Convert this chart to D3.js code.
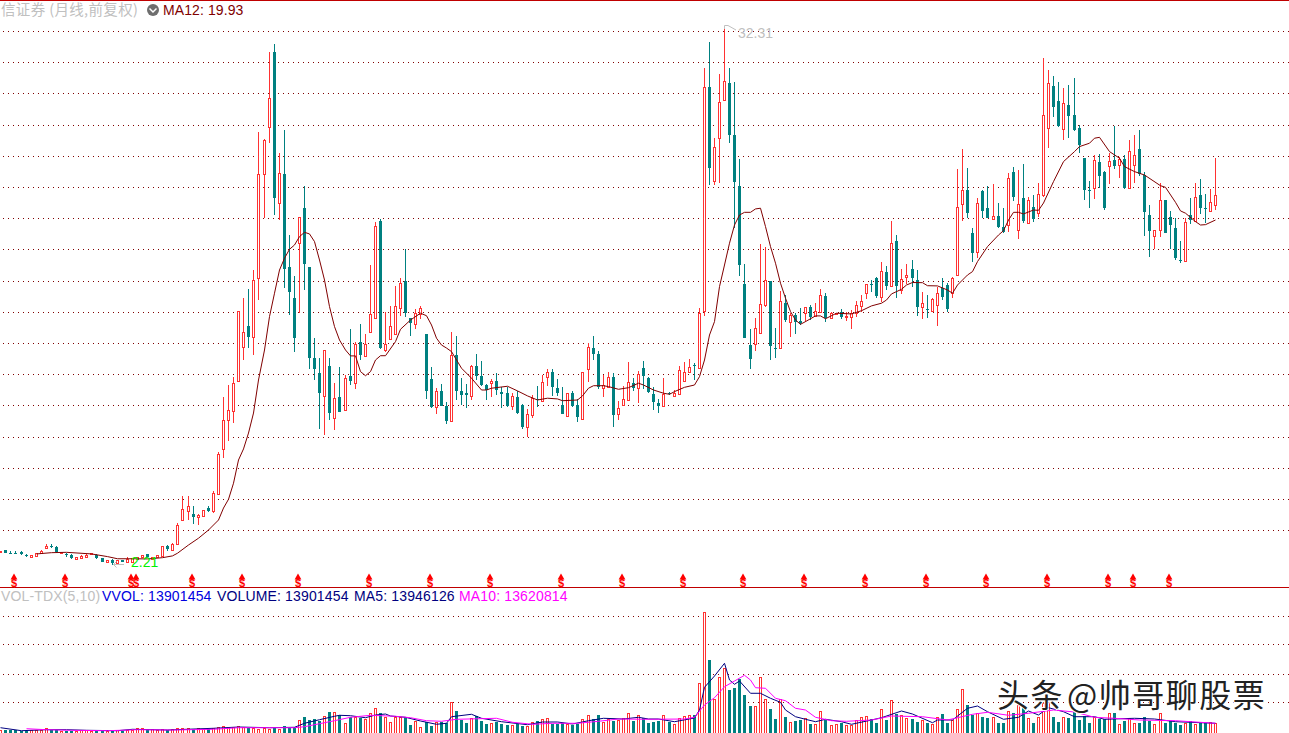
<!DOCTYPE html>
<html><head><meta charset="utf-8">
<script src="https://cdn.jsdelivr.net/npm/d3@7/dist/d3.min.js"></script>
<style>html,body{margin:0;padding:0;background:#fff;overflow:hidden}svg{display:block}text{font-family:"Liberation Sans",Arial,sans-serif}</style>
</head><body><div id="c"></div>
<script>
const candleColors = "RTTTTTRRRR"+"TTRTTRRRRT"+"TRTRTRRRRT"+"RRRTRRRRTR"+"RTRRRRRRRT"+"RRRRTRTTTR"+"TTTTRTRTRT"+"RTRRRTRRRR"+"TTRRTTRTTR"+"TTTRTTTRTT"+"TRTTRRTRRT"+"TTRTTRRTTR"+"RTRRRTRTTT"+"TRTRRRRTRR"+"TRRRTTTTTR"+"RRTTRTRTTR"+"TRRTRRTRRR"+"RRTTRTRTRR"+"TTRTRRTTRR"+"RTTRTTRTTR"+"TRTRTRRRTT"+"RTTTTTRTTR"+"TRTRRTTTRR"+"TTTTRTRTTRR";
const wickHigh = [3.02,3.04,2.98,2.98,2.98,2.83,2.77,2.88,3.05,3.40,3.37,3.28,2.94,2.90,2.83,2.64,2.79,2.83,2.88,2.83,
2.59,2.48,2.53,2.48,2.48,2.64,2.62,2.68,2.79,2.81,2.68,2.76,3.26,3.32,3.43,4.55,6.08,6.08,5.52,5.07,
5.28,5.52,6.37,8.54,11.62,12.29,12.74,16.42,17.16,17.67,18.73,26.44,26.07,30.94,31.39,25.27,26.57,20.69,18.40,21.72,
23.44,18.88,14.91,13.79,14.25,13.79,12.39,13.32,12.85,15.41,14.72,15.71,15.15,19.01,21.42,21.57,16.40,16.72,17.84,18.27,
19.89,16.03,16.55,16.70,15.15,13.32,12.11,12.35,11.36,15.26,15.04,12.67,12.35,13.41,14.03,13.65,12.35,12.61,12.95,12.18,
12.16,11.86,11.96,11.23,10.96,11.73,12.24,12.85,13.17,13.20,12.61,12.16,11.83,11.97,11.49,13.00,14.64,15.04,14.18,12.85,
13.00,12.95,11.41,12.24,13.58,12.67,13.08,13.65,12.76,12.16,11.49,12.67,11.90,12.01,13.36,13.60,13.73,13.54,16.59,30.03,
31.50,26.11,29.71,32.31,30.03,29.26,24.93,19.05,15.41,16.03,20.19,20.00,18.12,15.50,17.56,17.33,16.31,16.32,16.59,16.64,
16.77,16.87,17.67,17.43,16.40,16.30,16.53,16.40,16.49,17.00,17.33,17.93,18.17,18.36,19.16,18.96,21.48,20.69,18.77,19.07,
19.29,18.73,17.48,17.33,17.15,17.80,18.27,17.99,18.36,24.39,25.51,24.43,21.07,22.75,23.21,23.44,23.55,22.47,22.19,24.16,
24.48,24.33,24.67,22.84,22.93,23.59,30.59,29.93,29.60,29.24,28.94,29.09,29.47,26.85,25.00,23.72,25.16,25.23,24.28,25.27,
26.80,25.08,25.16,26.01,26.29,26.57,24.22,22.37,20.96,23.59,22.65,22.02,21.63,20.36,21.63,22.75,23.59,23.81,22.99,23.25,25.00];
const wickLow = [2.97,2.90,2.81,2.81,2.79,2.66,2.68,2.72,2.87,3.15,3.15,2.90,2.88,2.64,2.55,2.56,2.62,2.68,2.83,2.56,
2.40,2.36,2.21,2.31,2.40,2.31,2.40,2.53,2.64,2.64,2.55,2.66,2.73,2.98,2.98,3.37,4.75,4.72,4.52,4.47,
4.96,5.16,5.11,6.20,8.19,9.17,10.18,12.50,13.69,14.38,13.97,17.05,21.63,25.86,21.81,21.53,17.72,16.21,14.16,16.31,
17.61,13.20,12.57,9.84,9.49,10.33,9.77,10.80,10.89,12.29,12.08,13.69,13.93,15.28,16.06,14.29,14.16,14.81,15.09,16.16,
16.12,15.04,15.44,15.97,11.51,11.02,10.67,11.12,10.11,10.29,11.45,11.17,11.02,11.45,12.57,12.24,11.45,11.62,11.73,11.02,
11.06,10.89,10.67,9.81,9.40,10.44,11.08,11.38,12.24,11.68,11.68,10.67,10.57,11.04,10.24,10.40,12.48,13.69,12.07,11.60,
12.18,9.96,10.33,11.19,11.41,11.96,11.30,12.07,11.86,10.89,10.74,11.12,11.73,11.64,11.77,12.53,13.00,12.57,13.17,16.17,
23.49,23.49,23.62,28.24,25.86,21.07,18.40,14.94,13.19,14.21,15.22,16.68,13.69,13.82,14.35,15.84,15.00,15.15,15.65,15.84,
15.93,16.16,16.40,15.84,16.03,16.24,15.99,15.88,15.43,16.12,16.40,17.11,17.48,17.18,16.96,17.61,17.85,17.15,17.37,17.95,
17.80,16.17,15.99,16.06,16.44,15.61,17.05,16.40,17.15,18.45,21.49,21.63,19.20,19.39,21.64,21.64,21.60,21.10,20.82,20.88,
22.60,20.47,21.35,21.38,21.44,21.72,22.84,25.58,27.32,26.72,26.01,26.11,26.52,25.27,22.65,22.22,22.71,23.31,22.09,23.55,
24.40,23.87,23.25,23.28,23.62,24.00,20.64,19.48,19.89,20.60,20.80,19.89,19.29,19.11,19.25,21.29,21.42,21.87,21.38,22.02,22.09];
const bodyHigh = [3.02,3.04,2.91,2.91,2.94,2.77,2.77,2.88,3.00,3.29,3.28,3.22,2.94,2.80,2.77,2.64,2.72,2.77,2.88,2.76,
2.59,2.48,2.49,2.48,2.48,2.56,2.62,2.68,2.79,2.81,2.68,2.76,3.26,3.26,3.37,4.47,5.33,5.52,5.07,5.01,
5.28,5.40,6.24,8.43,10.33,10.88,12.39,16.42,15.26,15.60,18.17,24.09,26.00,28.35,30.94,24.15,24.09,18.88,17.15,21.72,
22.19,18.88,13.79,12.95,14.25,13.36,11.55,11.60,12.67,12.80,14.57,14.70,14.57,16.25,21.20,21.48,14.59,15.60,16.72,17.99,
18.13,16.03,16.31,16.59,15.15,12.63,11.94,11.96,11.12,13.96,13.97,11.96,11.84,13.36,13.36,12.80,12.29,12.50,12.50,11.88,
11.84,11.66,11.62,11.19,10.65,11.55,11.51,12.46,13.00,13.02,12.11,11.16,11.83,11.84,11.16,13.00,14.40,14.38,14.03,12.31,
12.72,12.72,10.99,11.49,12.44,12.39,12.89,13.26,12.68,11.80,11.28,11.79,11.82,11.86,13.12,13.00,13.32,13.41,16.31,28.96,
28.96,25.64,28.12,29.30,29.19,26.29,23.44,17.93,14.53,15.47,16.81,18.17,18.12,14.36,16.98,16.87,16.21,16.21,15.90,16.64,
16.68,16.42,17.32,17.28,16.31,16.30,16.36,16.16,16.31,16.76,17.00,17.93,17.92,18.27,18.66,18.62,20.23,20.36,18.21,18.47,
18.77,18.17,16.87,16.53,17.09,17.43,17.71,17.89,18.28,22.24,23.20,23.21,20.79,22.47,23.16,22.19,21.76,21.76,21.12,23.87,
24.22,22.41,22.75,22.65,22.26,22.99,27.40,29.19,29.04,28.20,28.07,27.97,27.41,26.68,25.00,23.21,24.88,24.78,24.22,24.84,
24.88,24.96,24.95,25.38,25.16,25.51,24.05,21.81,20.96,22.64,22.65,21.68,21.08,19.29,21.44,21.81,22.84,22.93,22.20,22.52,22.92];
const bodyLow = [2.97,2.90,2.88,2.88,2.84,2.73,2.68,2.72,2.87,3.15,3.24,2.94,2.88,2.77,2.60,2.56,2.62,2.68,2.83,2.60,
2.40,2.36,2.32,2.31,2.40,2.36,2.40,2.53,2.64,2.64,2.55,2.66,2.73,3.11,3.05,3.37,4.75,5.25,4.92,4.88,
4.97,5.22,5.22,6.20,8.69,10.32,10.82,12.50,14.40,15.00,14.96,18.30,24.09,26.76,22.78,22.50,18.80,17.52,14.91,20.23,
19.05,13.82,13.17,11.86,11.69,10.74,10.43,10.80,10.89,12.52,12.39,13.97,13.93,15.28,16.06,14.36,14.25,14.87,15.15,16.62,
16.31,15.78,15.72,16.27,11.97,11.08,11.08,11.12,10.28,10.29,11.97,11.73,11.73,11.69,12.80,12.29,12.00,12.42,12.00,11.79,
11.12,11.13,10.72,9.96,9.96,10.63,11.45,11.38,12.72,12.18,11.86,10.67,10.57,11.12,10.50,10.40,13.20,14.03,12.16,12.11,
12.18,10.61,10.68,11.19,11.45,12.14,12.11,12.80,11.92,11.34,11.12,11.12,11.76,11.68,11.80,12.53,13.00,13.34,13.23,16.45,
24.43,23.70,26.11,28.24,26.29,23.68,19.01,14.94,13.75,14.57,15.22,16.77,14.49,14.32,14.35,15.93,15.84,15.80,15.76,16.31,
16.12,16.16,16.40,16.03,16.03,16.24,16.08,16.08,16.12,16.34,16.73,17.46,17.89,17.28,17.24,17.85,17.85,17.85,17.61,18.32,
18.30,16.68,16.64,16.51,16.44,16.79,17.22,16.55,17.46,18.45,22.41,21.94,19.70,19.76,22.05,21.64,21.60,21.14,20.88,21.27,
22.82,20.97,21.49,21.38,21.60,21.94,22.93,26.70,27.88,26.80,26.61,27.37,26.57,25.73,23.21,23.17,23.34,24.00,22.22,24.57,
24.57,24.63,23.34,23.32,24.63,24.09,22.00,20.92,20.65,20.97,20.82,21.25,19.39,19.25,19.25,21.53,21.46,22.20,22.13,22.05,22.36];
const volumes = [4.2,4.9,4.2,4.2,2.8,2.8,4.2,4.2,4.2,7.7,4.9,4.2,3.5,2.8,3.5,2.8,4.2,4.2,2.8,2.8,
2.8,2.8,2.8,4.9,2.8,4.2,4.9,7,6.6,5.2,5.2,4.6,5.2,4.6,5.6,6.6,6.6,6.6,5.2,6.6,
5.6,5.2,6.6,8,9.4,8,8.4,9.4,8.8,6.6,6.6,6,6.6,6,6.6,6,9.4,7.4,8,17.8,
22.4,18.2,19.2,16.8,23.4,29.4,29.4,25.2,14.4,22.4,22.4,21.4,19.6,27.6,34.6,28,22.4,15.8,22.8,22.4,
22.4,11.2,17.2,8.8,15,9.8,15,15.8,13.6,43,30.8,18.6,14,20.6,23.4,17.2,12.6,14,15,13,
11.6,11.6,12.6,10.2,9.8,15,16.8,19.2,20.6,13,12.6,13.6,13,10.8,12.6,19.2,24.8,19.6,25.2,15.8,
19.6,17.2,17.8,21,27.6,17.2,24.8,21.4,14,15.4,16.8,24.8,15.4,12.6,21,23.8,25.2,25.2,69.6,169,
102.2,47.2,78,91.4,60.2,63,75.6,53.2,37.8,37.4,78,47.2,33.6,19.6,47.2,22.4,15,16.8,18.2,21,
12.6,12.6,30.4,19.6,10.8,12.6,13.6,11.2,11.2,18.2,22,23.4,19.2,13.6,33.6,18.2,46.2,26.6,24.8,20.6,
19.6,15.8,18.6,14,12.6,22,26.6,14.4,18.2,33.6,61.2,39.2,25.2,27.6,22,20.6,22.8,14.4,14.4,30.8,
27.6,38.8,35.4,21.4,14.4,22,41.6,43,22,15.4,22,21,33.6,18.2,23.8,14,22,19.2,19.6,27.6,
28.4,12.6,16.8,20.6,14.4,14.4,22,16.8,12.2,27.6,14.4,16.8,13.6,10.8,14.4,16.8,12.6,13.6,13.6,15,13.6];
const ma12Index = [7,10,13,18,21,23,26,29,32,34,35,37,39,41,43,44,45,46,47,48,49,50,51,52,53,54,55,56,57,58,59,60,61,62,63,64,65,66,67,68,69,70,71,72,73,74,75,76,78,79,81,83,84,85,86,87,88,89,91,93,95,96,97,100,102,104,106,108,110,111,114,115,116,117,119,120,122,124,126,127,129,131,132,133,135,137,138,139,140,141,142,143,144,145,146,147,148,149,150,151,152,153,154,155,156,157,158,159,161,162,163,165,168,170,172,174,175,176,178,179,180,182,183,185,187,188,189,191,192,193,195,197,198,199,200,201,202,204,205,206,208,210,212,213,215,216,217,219,221,222,224,226,229,230,232,233,234,236,237,238,240];
const ma12Values = [2.83,2.90,2.92,2.83,2.68,2.56,2.56,2.55,2.62,2.72,2.87,3.33,3.71,4.17,4.73,5.40,5.89,6.79,8.09,8.71,9.60,10.72,12.57,14.25,16.12,17.43,18.73,19.39,19.89,20.13,20.60,20.84,20.75,20.32,19.29,18.17,16.68,15.56,14.81,14.25,13.92,13.92,13.04,12.81,13.04,13.69,13.93,13.93,14.72,15.41,15.93,16.31,16.17,15.65,14.91,14.53,14.36,14.16,13.23,12.67,12.01,12.01,12.11,12.22,11.96,11.68,11.45,11.55,11.51,11.41,11.45,11.68,12.11,12.25,12.25,12.20,12.05,12.14,12.39,12.29,12.01,11.83,11.77,11.92,12.16,12.29,12.76,13.69,15.09,15.84,17.80,19.01,20.23,21.25,21.81,21.96,21.96,22.15,22.19,21.16,20.04,19.11,17.99,17.15,16.40,15.93,15.69,15.84,16.16,16.16,16.00,16.31,16.27,16.45,16.72,16.87,17.05,17.39,17.65,17.89,18.03,18.02,17.85,17.84,17.61,17.43,17.89,18.45,18.64,19.20,20.04,20.69,20.93,21.53,21.96,21.96,21.87,22.09,22.07,22.48,23.68,24.80,25.36,25.64,25.83,26.11,26.16,25.36,24.99,24.52,24.24,24.05,23.45,23.36,22.52,22.04,21.91,21.44,21.25,21.27,21.53];
const ma5Index = [0,4,9,13,17,23,26,33,42,47,53,58,60,63,66,67,69,72,74,76,77,80,83,86,88,89,93,95,99,104,107,110,113,116,119,123,126,128,130,133,137,138,139,141,143,144,145,146,148,150,152,154,155,157,159,161,163,166,168,172,174,178,180,184,185,188,191,193,195,198,201,203,205,207,210,212,216,218,224,228,232,235,240];
const ma5Values = [7.4,3.2,4.6,4.6,3.8,3.2,5.2,4.2,6.6,8.4,7.4,8,13.6,18.6,23.4,24.8,24.2,21.4,25.2,26.6,23.8,22,16.8,12.2,13.6,22.8,26.2,20.6,15.8,11.6,15.4,15.4,12.6,17.2,20.6,19.6,22,19.6,19.6,15.8,21,32.2,64,79.8,97.6,74.2,68.2,72.8,55.6,55.6,48.6,43,32.2,22.8,19.2,15.8,19.2,15.8,12.2,18.2,21.4,30.8,26.6,14.4,18.2,18.2,34.6,37.8,29.8,19.2,22,30.8,25.2,35.4,29.8,22.8,22.8,19.2,20.6,19.6,15.8,15,13.6];
const ma10Index = [5,9,14,21,27,34,42,47,58,60,63,66,69,73,78,81,84,87,90,98,101,105,109,114,118,122,128,135,137,139,141,143,145,147,148,149,151,153,155,157,159,161,164,167,172,176,182,187,192,195,199,203,208,212,216,220,225,232,240];
const ma10Values = [6,4.6,3.8,3.2,4.6,4.2,5.2,7.4,7.4,8.8,13,17.2,22,24.8,23.4,21.4,17.2,16.4,19.2,20.6,15,12.2,13.6,13.6,16.4,19.6,19.2,19.6,22,39.2,49.4,64.8,72.8,80.8,74.2,63.4,62.6,48.6,45.2,34.6,32.2,22,17.2,16.4,18.2,23.8,22.8,18.2,26.2,29,24.8,27.6,32.2,29.4,22,20.6,18.2,17.2,13.6];
const signalIndex = [3,13,26,27,38,48,59,73,85,97,111,123,135,147,159,171,183,195,207,219,224,231];
const priceGrid = [32.12,30.37,28.62,26.87,25.13,23.38,21.63,19.89,18.14,16.39,14.64,12.9,11.15,9.4,7.65,5.9,4.16];
const volumeGrid = [43,83,124,164];
const headerTitle = "信证券 (月线,前复权)";
const headerMA = "MA12: 19.93";
const volumeLegend = [
  {t:"VOL-TDX(5,10)",x:1,c:"#c0c0c0"},
  {t:"VVOL: 13901454",x:102,c:"#0000e0"},
  {t:"VOLUME: 13901454",x:217,c:"#000080"},
  {t:"MA5: 13946126",x:354,c:"#000080"},
  {t:"MA10: 13620814",x:459,c:"#ff00ff"}
];
const RED="#ff3232", TEAL="#008080", GRID="#800000";

const W=1289,H=733;
const svg=d3.select("#c").append("svg").attr("width",W).attr("height",H);
const x=d3.scaleLinear().domain([0,240]).range([0.75,1215.75]);
const yP=d3.scaleLinear().domain([2.21,32.31]).range([565,27.5]);
const yV=d3.scaleLinear().domain([0,140]).range([733,633]);
const cx=i=>Math.floor(x(i));
const isUp=i=>candleColors[i]==="R";
const idx=d3.range(wickHigh.length);

const crisp=svg.append("g").attr("shape-rendering","crispEdges");
crisp.append("rect").attr("x",0).attr("y",0).attr("width",W).attr("height",1).attr("fill","#c00000");
crisp.append("rect").attr("x",0).attr("y",587).attr("width",W).attr("height",1).attr("fill","#c00000");
crisp.selectAll(".gp").data(priceGrid).join("line").attr("x1",3).attr("x2",W)
  .attr("y1",d=>Math.round(yP(d))+.5).attr("y2",d=>Math.round(yP(d))+.5)
  .attr("stroke",GRID).attr("stroke-dasharray","1 4");
crisp.selectAll(".gv").data(volumeGrid).join("line").attr("x1",3).attr("x2",W)
  .attr("y1",d=>Math.round(yV(d))+.5).attr("y2",d=>Math.round(yV(d))+.5)
  .attr("stroke",GRID).attr("stroke-dasharray","1 4");

const cg=svg.append("g").attr("shape-rendering","crispEdges");
cg.selectAll("rect.w").data(idx).join("rect").attr("class","w")
  .attr("x",i=>cx(i)).attr("width",1)
  .attr("y",i=>Math.round(yP(wickHigh[i])))
  .attr("height",i=>Math.max(1,Math.round(yP(wickLow[i]))-Math.round(yP(wickHigh[i]))))
  .attr("fill",i=>isUp(i)?RED:TEAL);
cg.selectAll("rect.b").data(idx).join("rect").attr("class","b")
  .attr("x",i=>isUp(i)?cx(i)-.5:cx(i)-1)
  .attr("width",i=>isUp(i)?2:3)
  .attr("y",i=>Math.round(yP(bodyHigh[i]))+(isUp(i)?.5:0))
  .attr("height",i=>Math.max(1,Math.round(yP(bodyLow[i]))-Math.round(yP(bodyHigh[i]))))
  .attr("fill",i=>isUp(i)?"#fff":TEAL)
  .attr("stroke",i=>isUp(i)?RED:"none");

const vg=svg.append("g").attr("shape-rendering","crispEdges");
vg.selectAll("rect").data(idx).join("rect")
  .attr("x",i=>isUp(i)?cx(i)-.5:cx(i)-1)
  .attr("width",i=>isUp(i)?2:3)
  .attr("y",i=>Math.round(yV(volumes[i]))+(isUp(i)?.5:0))
  .attr("height",i=>Math.max(1,733-Math.round(yV(volumes[i]))+2))
  .attr("fill",i=>isUp(i)?"#fff":TEAL)
  .attr("stroke",i=>isUp(i)?RED:"none");

const line=(xs,ys,sc,col,w)=>svg.append("path")
  .attr("d",d3.line().x((_,k)=>cx(xs[k])+.5).y(d=>sc(d))(ys))
  .attr("fill","none").attr("stroke",col).attr("stroke-width",w);
line(ma12Index,ma12Values,yP,"#800000",1);
line(ma5Index,ma5Values,yV,"#000080",1);
line(ma10Index,ma10Values,yV,"#ff00ff",1);

const sg=svg.selectAll("g.s").data(signalIndex).join("g").attr("class","s")
  .attr("transform",i=>`translate(${cx(i)-1},0)`);
sg.append("path").attr("d",d3.symbol(d3.symbolTriangle,20)()).attr("transform","translate(0,577.5)").attr("fill","#ff0000");
sg.append("text").attr("y",586.5).attr("text-anchor","middle").attr("font-size",11).attr("font-weight","bold").attr("fill","#ff0000").text("$");

svg.append("text").attr("x",131).attr("y",567).attr("font-size",14).attr("fill","#00f000").text("2.21");
svg.append("path").attr("d","M113.5 564.5H124M113.5 564.5l3 -3M113.5 564.5l3 3").attr("fill","none").attr("stroke","#c0c0c0");
svg.append("text").attr("x",738).attr("y",38).attr("font-size",14).attr("fill","#c0c0c0").text("32.31");
svg.append("path").attr("d","M724.5 29V25.5H728L736 30").attr("fill","none").attr("stroke","#c0c0c0");

svg.append("text").attr("x",1).attr("y",15).attr("font-size",14.5).attr("letter-spacing",0.35).attr("style",'font-family:"Noto Sans CJK SC"').attr("fill","#c0c0c0").text(headerTitle);
svg.append("circle").attr("cx",153).attr("cy",10).attr("r",6).attr("fill","#6e6e6e");
svg.append("path").attr("d","M149.5 8.5L153 12L156.5 8.5").attr("fill","none").attr("stroke","#fff").attr("stroke-width",1.5);
svg.append("text").attr("x",163).attr("y",15).attr("font-size",14).attr("letter-spacing",0.1).attr("fill","#800000").text(headerMA);

svg.selectAll("text.l").data(volumeLegend).join("text").attr("class","l")
  .attr("x",d=>d.x).attr("y",601).attr("font-size",14).attr("letter-spacing",0.15).attr("fill",d=>d.c).text(d=>d.t);

const wm=svg.append("g").attr("style",'paint-order:stroke').attr("stroke","#fff").attr("stroke-width",2).attr("fill","#222");
wm.append("text").attr("x",997).attr("y",707).attr("font-size",32).attr("letter-spacing",1.5).attr("style",'font-family:"Noto Sans CJK SC";paint-order:stroke').text("头条");
wm.append("text").attr("x",1067).attr("y",707).attr("font-size",32).attr("letter-spacing",1.5).attr("style",'font-family:"Noto Sans CJK SC";paint-order:stroke').text("@帅哥聊股票");
</script></body></html>
